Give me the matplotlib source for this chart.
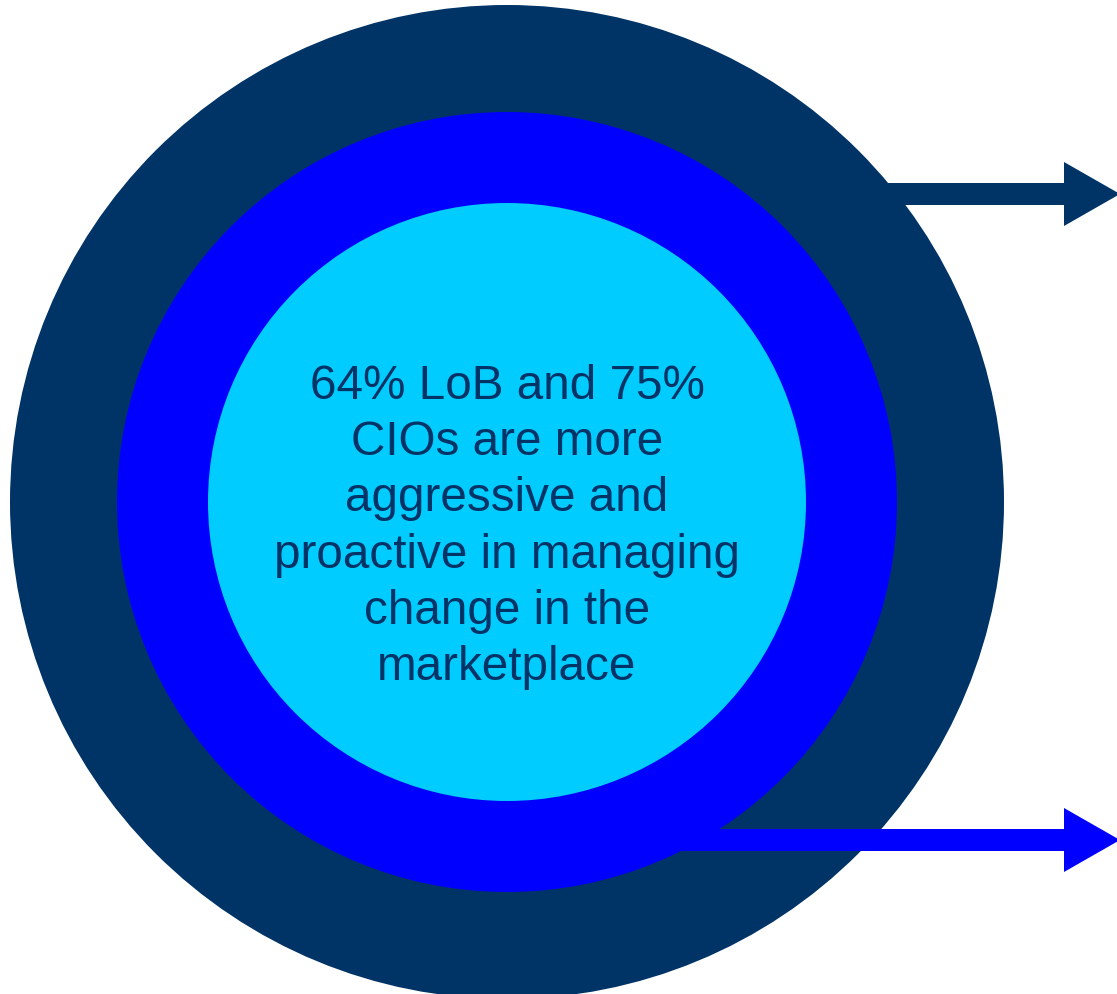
import matplotlib
matplotlib.use('Agg')
import matplotlib.pyplot as plt
from matplotlib.patches import Circle

# Rings from outside in, and the two call-out arrows
ring_names = ['outer', 'middle', 'core']
ring_colors = ['#003366', '#0000FF', '#00CCFF']
ring_radii = [497, 390, 299]

core_text = ('64% LoB and 75%\nCIOs are more\naggressive and\n'
             'proactive in managing\nchange in the\nmarketplace')

arrow_colors = ['#003366', '#0000FF']
arrow_y = [194, 840]
arrow_x0 = [800, 640]

cx, cy = 507, 502

fig = plt.figure(figsize=(11.17, 9.94), dpi=100)
ax = fig.add_axes([0, 0, 1, 1])
ax.set_xlim(0, 1117)
ax.set_ylim(994, 0)
ax.axis('off')

for name, col, r in zip(ring_names, ring_colors, ring_radii):
    ax.add_patch(Circle((cx, cy), r, facecolor=col, edgecolor='none',
                        zorder=1))

for col, y, x0 in zip(arrow_colors, arrow_y, arrow_x0):
    ax.arrow(x0, y, 1120 - x0, 0, width=22, head_width=64,
             head_length=56, length_includes_head=True,
             facecolor=col, edgecolor='none', zorder=2)

ax.text(cx, 527, core_text, ha='center', va='center',
        fontsize=34.3, color='#003366', family='Liberation Sans',
        linespacing=1.32, zorder=3)

fig.savefig('out.png', dpi=100, facecolor='white')
